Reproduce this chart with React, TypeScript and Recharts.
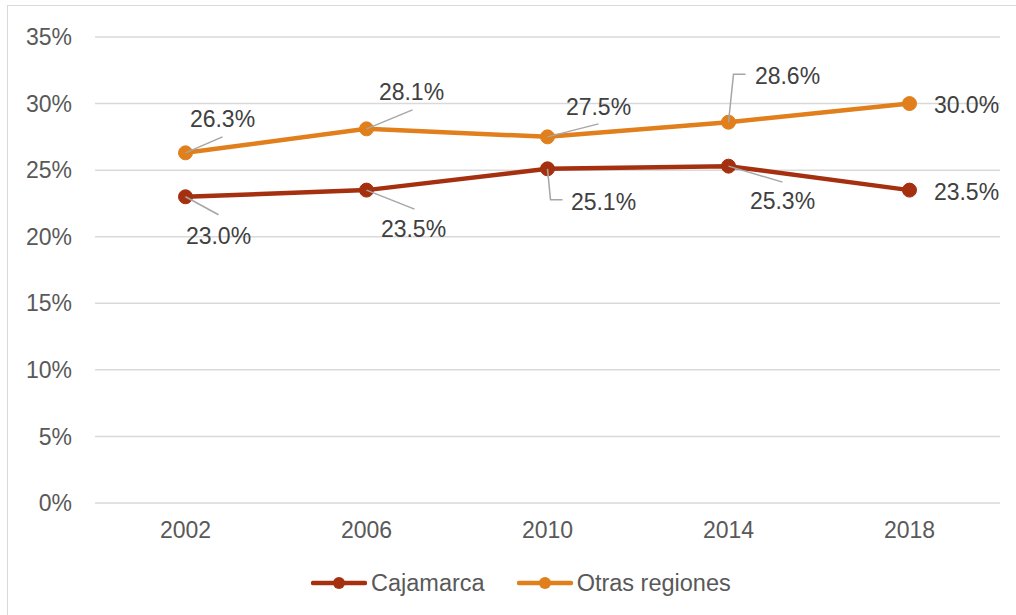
import React from 'react';
import { LineChart, Line, XAxis, YAxis, CartesianGrid, Legend, LabelList } from 'recharts';

const years = ['2002', '2006', '2010', '2014', '2018'];
const cajamarca = [23.0, 23.5, 25.1, 25.3, 23.5];
const otrasRegiones = [26.3, 28.1, 27.5, 28.6, 30.0];
const yTicks = [0, 5, 10, 15, 20, 25, 30, 35];

const SERIES = [
  { key: 'cajamarca', name: 'Cajamarca', color: '#A5300F' },
  { key: 'otras', name: 'Otras regiones', color: '#E07F1B' },
];

const chartData = years.map((year, i) => ({
  year,
  cajamarca: cajamarca[i],
  otras: otrasRegiones[i],
}));

const FONT = '"Liberation Sans", Arial, sans-serif';

// label placement relative to the point: text centre (dx, dy) and leader path
type LabelPos = { dx: number; dy: number; leader?: number[][] };

const cajamarcaLabels: LabelPos[] = [
  { dx: 33, dy: 39, leader: [[0, 0], [33, 18]] },
  { dx: 47, dy: 39, leader: [[0, 0], [48, 19]] },
  { dx: 56, dy: 33, leader: [[0, 0], [3, 31], [15, 31]] },
  { dx: 54, dy: 35, leader: [[0, 0], [54, 16]] },
  { dx: 57, dy: 2 },
];

const otrasLabels: LabelPos[] = [
  { dx: 37, dy: -34, leader: [[0, 0], [37, -16]] },
  { dx: 45, dy: -37, leader: [[0, 0], [46, -19]] },
  { dx: 51, dy: -30, leader: [[0, 0], [51, -13]] },
  { dx: 59, dy: -46, leader: [[0, 0], [5, -48], [17, -48]] },
  { dx: 57, dy: 1 },
];

const makeLabel = (positions: LabelPos[]) => (props: any) => {
  const { x, y, value, index } = props;
  const pos = positions[index];
  if (!pos || x == null || y == null) return null;
  const pts = pos.leader ? pos.leader.map(([a, b]) => `${x + a},${y + b}`).join(' ') : null;
  return (
    <g>
      {pts && <polyline points={pts} fill="none" stroke="#A6A6A6" strokeWidth={1.5} />}
      <text
        x={x + pos.dx}
        y={y + pos.dy}
        textAnchor="middle"
        dominantBaseline="central"
        fontFamily={FONT}
        fontSize={23}
        fill="#404040"
      >
        {Number(value).toFixed(1)}%
      </text>
    </g>
  );
};

const renderLegend = () => (
  <div style={{ display: 'flex', height: 40, alignItems: 'center', paddingLeft: 311, fontFamily: FONT, fontSize: 23.5, color: '#595959' }}>
    {SERIES.map((s, i) => (
      <div key={s.key} style={{ display: 'flex', alignItems: 'center', marginRight: i === 0 ? 32 : 0 }}>
        <svg width={56} height={14} style={{ marginRight: 4 }}>
          <line x1={2} y1={7} x2={54} y2={7} stroke={s.color} strokeWidth={4.5} strokeLinecap="round" />
          <circle cx={28} cy={7} r={6} fill={s.color} />
        </svg>
        <span>{s.name}</span>
      </div>
    ))}
  </div>
);

const App: React.FC = () => {
  return (
    <div style={{ position: 'absolute', left: 0, top: 0, width: 1016, height: 615, background: '#ffffff' }}>
      <div
        style={{
          position: 'absolute',
          left: 7,
          top: 5,
          right: 0,
          bottom: 0,
          borderLeft: '1.5px solid #D9D9D9',
          borderTop: '1.5px solid #D9D9D9',
        }}
      />
      <LineChart
        width={1016}
        height={615}
        data={chartData}
        margin={{ top: 37, right: 16, bottom: 42, left: 0 }}
        style={{ position: 'absolute', left: 0, top: 0 }}
      >
        <CartesianGrid vertical={false} stroke="#D9D9D9" strokeWidth={1.5} />
        <XAxis
          dataKey="year"
          axisLine={false}
          tickLine={false}
          padding={{ left: 90.5, right: 90.5 }}
          tickMargin={13}
          tick={{ fill: '#595959', fontSize: 23, fontFamily: FONT }}
        />
        <YAxis
          width={95}
          domain={[0, 35]}
          ticks={yTicks}
          axisLine={false}
          tickLine={false}
          tickMargin={17}
          tickFormatter={(v: number) => `${v}%`}
          tick={{ fill: '#595959', fontSize: 23, fontFamily: FONT }}
        />
        <Legend
          verticalAlign="bottom"
          content={renderLegend}
          wrapperStyle={{ left: 0, bottom: 12, width: 1016, height: 40 }}
        />
        <Line
          type="linear"
          dataKey="cajamarca"
          name="Cajamarca"
          stroke={SERIES[0].color}
          strokeWidth={4.5}
          dot={{ r: 7, fill: SERIES[0].color, stroke: SERIES[0].color, strokeWidth: 1 }}
          activeDot={false}
          isAnimationActive={false}
        >
          <LabelList dataKey="cajamarca" content={makeLabel(cajamarcaLabels)} />
        </Line>
        <Line
          type="linear"
          dataKey="otras"
          name="Otras regiones"
          stroke={SERIES[1].color}
          strokeWidth={4.5}
          dot={{ r: 7, fill: SERIES[1].color, stroke: SERIES[1].color, strokeWidth: 1 }}
          activeDot={false}
          isAnimationActive={false}
        >
          <LabelList dataKey="otras" content={makeLabel(otrasLabels)} />
        </Line>
      </LineChart>
    </div>
  );
};

export default App;
